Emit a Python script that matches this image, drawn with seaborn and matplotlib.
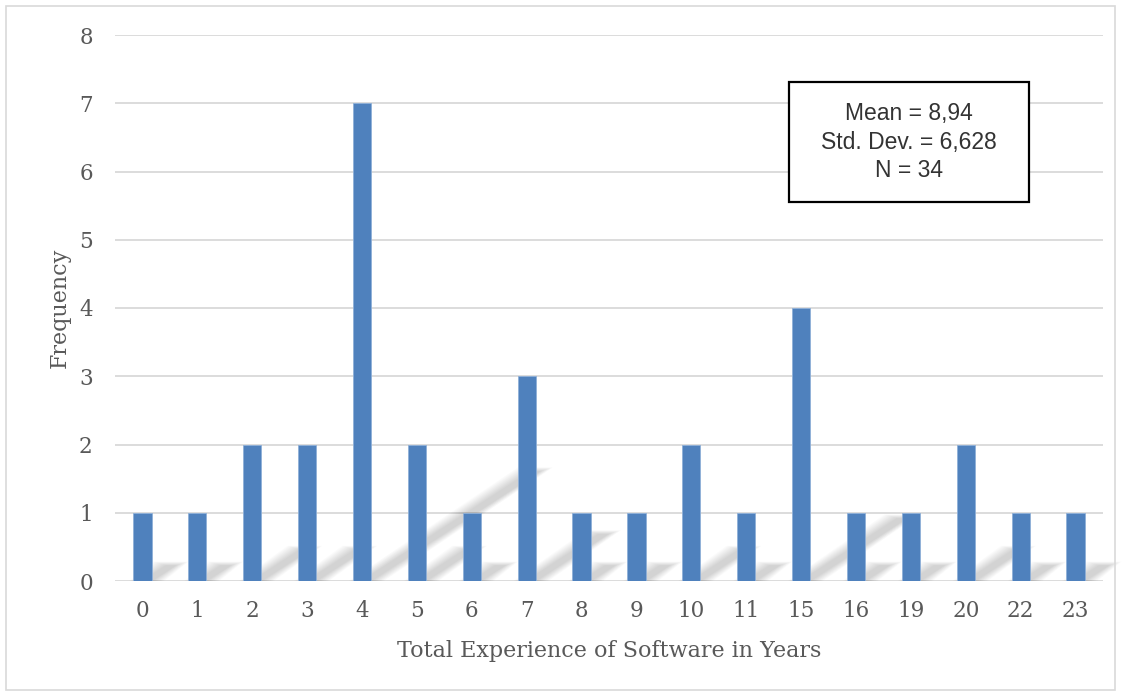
import numpy as np
import pandas as pd
import seaborn as sns
import matplotlib.pyplot as plt
from matplotlib.patches import Polygon, Rectangle

# data
years = ["0", "1", "2", "3", "4", "5", "6", "7", "8", "9", "10", "11",
         "15", "16", "19", "20", "22", "23"]
freq = [1, 1, 2, 2, 7, 2, 1, 3, 1, 1, 2, 1, 4, 1, 1, 2, 1, 1]

df = pd.DataFrame({"years": years, "freq": freq})

sns.set_theme(style="white")
plt.rcParams["font.family"] = ["DejaVu Serif"]

fig = plt.figure(figsize=(11.22, 6.95), dpi=100)
ax = fig.add_axes([115 / 1122, 1 - 581 / 695, (1103 - 115) / 1122, (581 - 35) / 695])

# soft diagonal shadows behind the bars (layered to fake a blur)
for i, h in enumerate(freq):
    dx = h * 0.44
    dy = h * 0.23
    for k in np.linspace(0, 0.22, 11):
        pts = [(i - 0.02 - k, 0), (i + 0.18 + k, 0),
               (i + 0.18 + dx + k, dy + k * 0.25), (i - 0.02 + dx - k, dy + k * 0.25)]
        ax.add_patch(Polygon(pts, closed=True, color="#000000", alpha=0.014,
                             lw=0, zorder=1, clip_on=False))

sns.barplot(data=df, x="years", y="freq", color="#4f81bd", saturation=1,
            width=0.33, ax=ax, zorder=3, edgecolor="#8fb0d8", linewidth=0.6)

ax.set_ylim(0, 8)
ax.set_xlim(-0.5, len(years) - 0.5)
ax.set_yticks(range(9))
ax.yaxis.grid(True, color="#d9d9d9", lw=1.3, zorder=0)
ax.set_axisbelow(True)
for s in ax.spines.values():
    s.set_visible(False)
ax.tick_params(axis="both", length=0, labelsize=15.5, colors="#595959")
ax.tick_params(axis="x", pad=14)
ax.tick_params(axis="y", pad=16)
ax.set_xlabel("Total Experience of Software in Years", fontsize=16, color="#595959", labelpad=13)
ax.set_ylabel("Frequency", fontsize=16, color="#595959", labelpad=6)

ax.text(0.8036, 0.804, "Mean = 8,94\nStd. Dev. = 6,628\nN = 34", transform=ax.transAxes,
        ha="center", va="center", fontsize=16.5, family="Liberation Sans", color="#333333",
        linespacing=1.3, zorder=5)
ax.add_patch(Rectangle(((789 - 115) / 988, (581 - 202) / 546), 240 / 988, 120 / 546,
                       transform=ax.transAxes, fc="white", ec="black", lw=1.6, zorder=4))

# outer chart frame
fig.add_artist(Rectangle((6 / 1122, 5 / 695), 1109 / 1122, 684 / 695, transform=fig.transFigure,
                         fill=False, ec="#d9d9d9", lw=1.2))

fig.savefig("out.png", dpi=100)
